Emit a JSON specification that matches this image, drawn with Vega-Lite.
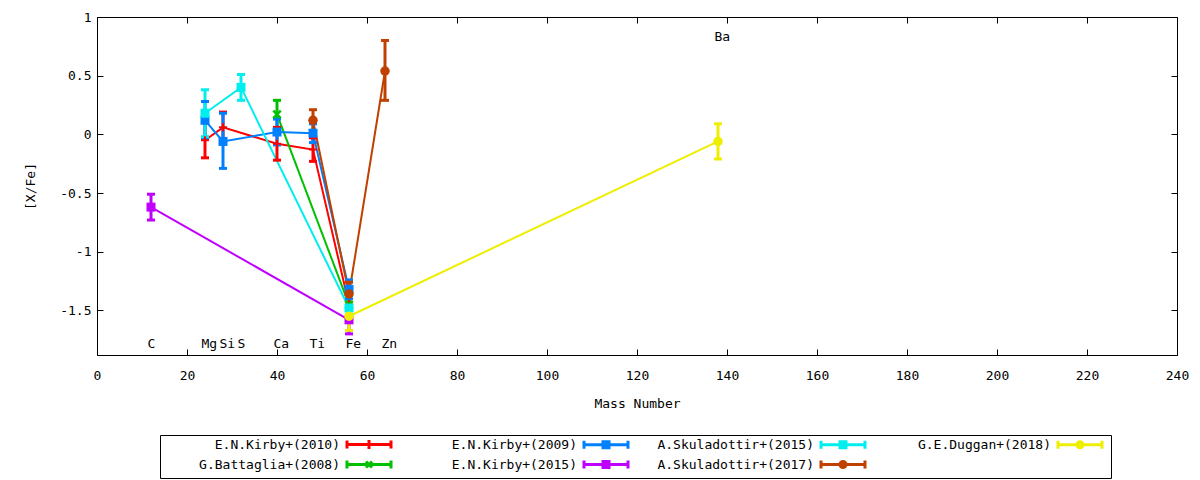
{
  "$schema": "https://vega.github.io/schema/vega-lite/v6.json",
  "width": 1080,
  "height": 338,
  "autosize": {"type": "none"},
  "padding": {"left": 97, "top": 17, "right": 23, "bottom": 125},
  "config": {
    "view": {"stroke": "black", "strokeWidth": 1},
    "font": "DejaVu Sans Mono",
    "axis": {
      "labelFont": "DejaVu Sans Mono", "labelFontSize": 13, "labelColor": "black",
      "titleFont": "DejaVu Sans Mono", "titleFontSize": 13, "titleFontWeight": "normal", "titleColor": "black",
      "tickColor": "black", "tickSize": -6, "tickWidth": 1, "grid": false, "domain": false
    }
  },
  "resolve": {"axis": {"x": "independent", "y": "independent"}},
  "datasets": {
    "abund": [
      {"series": "E.N.Kirby+(2010)", "el": "Mg", "mass": 24, "v": -0.05, "lo": -0.20, "hi": 0.10},
      {"series": "E.N.Kirby+(2010)", "el": "Si", "mass": 28, "v": 0.06, "lo": -0.08, "hi": 0.19},
      {"series": "E.N.Kirby+(2010)", "el": "Ca", "mass": 40, "v": -0.08, "lo": -0.22, "hi": 0.06},
      {"series": "E.N.Kirby+(2010)", "el": "Ti", "mass": 48, "v": -0.13, "lo": -0.23, "hi": -0.03},
      {"series": "E.N.Kirby+(2010)", "el": "Fe", "mass": 56, "v": -1.45, "lo": -1.55, "hi": -1.35},
      {"series": "G.Battaglia+(2008)", "el": "Ca", "mass": 40, "v": 0.17, "lo": 0.05, "hi": 0.29},
      {"series": "G.Battaglia+(2008)", "el": "Fe", "mass": 56, "v": -1.45, "lo": -1.55, "hi": -1.35},
      {"series": "E.N.Kirby+(2009)", "el": "Mg", "mass": 24, "v": 0.12, "lo": -0.04, "hi": 0.28},
      {"series": "E.N.Kirby+(2009)", "el": "Si", "mass": 28, "v": -0.06, "lo": -0.29, "hi": 0.18},
      {"series": "E.N.Kirby+(2009)", "el": "Ca", "mass": 40, "v": 0.02, "lo": -0.09, "hi": 0.13},
      {"series": "E.N.Kirby+(2009)", "el": "Ti", "mass": 48, "v": 0.01, "lo": -0.07, "hi": 0.09},
      {"series": "E.N.Kirby+(2009)", "el": "Fe", "mass": 56, "v": -1.32, "lo": -1.40, "hi": -1.24},
      {"series": "E.N.Kirby+(2015)", "el": "C", "mass": 12, "v": -0.62, "lo": -0.73, "hi": -0.51},
      {"series": "E.N.Kirby+(2015)", "el": "Fe", "mass": 56, "v": -1.58, "lo": -1.70, "hi": -1.46},
      {"series": "A.Skuladottir+(2015)", "el": "Mg", "mass": 24, "v": 0.18, "lo": -0.02, "hi": 0.38},
      {"series": "A.Skuladottir+(2015)", "el": "S", "mass": 32, "v": 0.40, "lo": 0.29, "hi": 0.51},
      {"series": "A.Skuladottir+(2015)", "el": "Fe", "mass": 56, "v": -1.48, "lo": -1.58, "hi": -1.38},
      {"series": "A.Skuladottir+(2017)", "el": "Ti", "mass": 48, "v": 0.12, "lo": 0.03, "hi": 0.21},
      {"series": "A.Skuladottir+(2017)", "el": "Fe", "mass": 56, "v": -1.36, "lo": -1.46, "hi": -1.26},
      {"series": "A.Skuladottir+(2017)", "el": "Zn", "mass": 64, "v": 0.54, "lo": 0.29, "hi": 0.80},
      {"series": "G.E.Duggan+(2018)", "el": "Fe", "mass": 56, "v": -1.55, "lo": -1.67, "hi": -1.44},
      {"series": "G.E.Duggan+(2018)", "el": "Ba", "mass": 138, "v": -0.06, "lo": -0.21, "hi": 0.09}
    ],
    "elems": [
      {"el": "C", "mass": 12, "y": -1.79},
      {"el": "Mg", "mass": 24, "y": -1.79},
      {"el": "Si", "mass": 28, "y": -1.79},
      {"el": "S", "mass": 32, "y": -1.79},
      {"el": "Ca", "mass": 40, "y": -1.79},
      {"el": "Ti", "mass": 48, "y": -1.79},
      {"el": "Fe", "mass": 56, "y": -1.79},
      {"el": "Zn", "mass": 64, "y": -1.79},
      {"el": "Ba", "mass": 138, "y": 0.83}
    ]
  },
  "layer": [
    {
      "data": {"name": "abund"},
      "mark": {"type": "line", "strokeWidth": 2},
      "encoding": {
        "x": {
          "field": "mass", "type": "quantitative",
          "scale": {"domain": [0, 240], "nice": false},
          "axis": {"orient": "bottom", "title": "Mass Number", "values": [0, 20, 40, 60, 80, 100, 120, 140, 160, 180, 200, 220, 240], "labelPadding": 20, "titlePadding": 15, "labelFlush": false}
        },
        "y": {
          "field": "v", "type": "quantitative",
          "scale": {"domain": [-1.88, 1], "nice": false},
          "axis": {"orient": "left", "title": "[X/Fe]", "values": [-1.5, -1, -0.5, 0, 0.5, 1], "labelExpr": "toString(datum.value)", "labelPadding": 12, "titlePadding": 22}
        },
        "color": {
          "field": "series", "type": "nominal",
          "scale": {
            "domain": ["E.N.Kirby+(2010)", "E.N.Kirby+(2009)", "A.Skuladottir+(2015)", "G.E.Duggan+(2018)", "G.Battaglia+(2008)", "E.N.Kirby+(2015)", "A.Skuladottir+(2017)"],
            "range": ["#ff0000", "#0080ff", "#00eeee", "#eeee00", "#00c000", "#c000ff", "#c04000"]
          },
          "legend": {
            "orient": "none", "legendX": 63, "legendY": 418, "title": null,
            "columns": 4, "direction": "horizontal", "gridAlign": "all",
            "columnPadding": 3, "rowPadding": -1,
            "symbolSize": 100, "symbolOffset": 199.5, "labelOffset": -35.5,
            "labelAlign": "right", "labelLimit": 400,
            "labelFont": "DejaVu Sans Mono", "labelFontSize": 13, "labelColor": "black",
            "symbolStrokeWidth": 3, "strokeColor": "black", "padding": 3,
            "encode": {
              "symbols": {
                "update": {
                  "shape": {"signal": "datum.value === 'E.N.Kirby+(2010)' ? 'M-4.4,0H4.4M-4.4,-0.8V0.8M4.4,-0.8V0.8M0,-0.9V0.9' : datum.value === 'G.Battaglia+(2008)' ? 'M-4.4,0H4.4M-4.4,-0.8V0.8M4.4,-0.8V0.8M-0.6,-0.6L0.6,0.6M-0.6,0.6L0.6,-0.6' : (datum.value === 'A.Skuladottir+(2017)' || datum.value === 'G.E.Duggan+(2018)') ? 'M-4.4,0H4.4M-4.4,-0.8V0.8M4.4,-0.8V0.8M0.6,0A0.6,0.6,0,1,1,-0.6,0A0.6,0.6,0,1,1,0.6,0Z' : 'M-4.4,0H4.4M-4.4,-0.8V0.8M4.4,-0.8V0.8M-0.6,-0.6H0.6V0.6H-0.6Z'"},
                  "fill": {"scale": "color", "field": "value"},
                  "stroke": {"scale": "color", "field": "value"},
                  "strokeWidth": {"value": 3},
                  "opacity": {"value": 1}
                }
              }
            }
          }
        }
      }
    },
    {
      "data": {"name": "abund"},
      "mark": {"type": "rule", "strokeWidth": 3},
      "encoding": {
        "x": {"field": "mass", "type": "quantitative", "scale": {"domain": [0, 240], "nice": false}, "axis": null},
        "y": {"field": "lo", "type": "quantitative", "scale": {"domain": [-1.88, 1], "nice": false}, "axis": null},
        "y2": {"field": "hi"},
        "color": {"field": "series", "type": "nominal"}
      }
    },
    {
      "data": {"name": "abund"},
      "mark": {"type": "tick", "orient": "horizontal", "size": 8, "thickness": 3, "opacity": 1},
      "encoding": {
        "x": {"field": "mass", "type": "quantitative", "scale": {"domain": [0, 240], "nice": false}, "axis": null},
        "y": {"field": "lo", "type": "quantitative", "scale": {"domain": [-1.88, 1], "nice": false}, "axis": null},
        "color": {"field": "series", "type": "nominal"}
      }
    },
    {
      "data": {"name": "abund"},
      "mark": {"type": "tick", "orient": "horizontal", "size": 8, "thickness": 3, "opacity": 1},
      "encoding": {
        "x": {"field": "mass", "type": "quantitative", "scale": {"domain": [0, 240], "nice": false}, "axis": null},
        "y": {"field": "hi", "type": "quantitative", "scale": {"domain": [-1.88, 1], "nice": false}, "axis": null},
        "color": {"field": "series", "type": "nominal"}
      }
    },
    {
      "data": {"name": "abund"},
      "transform": [{"filter": "datum.series === 'E.N.Kirby+(2010)'"}],
      "mark": {"type": "point", "filled": false, "strokeWidth": 2, "size": 64, "opacity": 1, "shape": "M-1,0H1M0,-1V1"},
      "encoding": {
        "x": {"field": "mass", "type": "quantitative", "scale": {"domain": [0, 240], "nice": false}, "axis": null},
        "y": {"field": "v", "type": "quantitative", "scale": {"domain": [-1.88, 1], "nice": false}, "axis": null},
        "color": {"field": "series", "type": "nominal"}
      }
    },
    {
      "data": {"name": "abund"},
      "transform": [{"filter": "datum.series === 'G.Battaglia+(2008)'"}],
      "mark": {"type": "point", "filled": false, "strokeWidth": 2.5, "size": 56, "opacity": 1, "shape": "M-1,-1L1,1M-1,1L1,-1"},
      "encoding": {
        "x": {"field": "mass", "type": "quantitative", "scale": {"domain": [0, 240], "nice": false}, "axis": null},
        "y": {"field": "v", "type": "quantitative", "scale": {"domain": [-1.88, 1], "nice": false}, "axis": null},
        "color": {"field": "series", "type": "nominal"}
      }
    },
    {
      "data": {"name": "abund"},
      "transform": [{"filter": "datum.series === 'E.N.Kirby+(2009)' || datum.series === 'E.N.Kirby+(2015)' || datum.series === 'A.Skuladottir+(2015)'"}],
      "mark": {"type": "point", "filled": true, "size": 81, "opacity": 1, "shape": "square"},
      "encoding": {
        "x": {"field": "mass", "type": "quantitative", "scale": {"domain": [0, 240], "nice": false}, "axis": null},
        "y": {"field": "v", "type": "quantitative", "scale": {"domain": [-1.88, 1], "nice": false}, "axis": null},
        "color": {"field": "series", "type": "nominal"}
      }
    },
    {
      "data": {"name": "abund"},
      "transform": [{"filter": "datum.series === 'A.Skuladottir+(2017)' || datum.series === 'G.E.Duggan+(2018)'"}],
      "mark": {"type": "point", "filled": true, "size": 90, "opacity": 1, "shape": "circle"},
      "encoding": {
        "x": {"field": "mass", "type": "quantitative", "scale": {"domain": [0, 240], "nice": false}, "axis": null},
        "y": {"field": "v", "type": "quantitative", "scale": {"domain": [-1.88, 1], "nice": false}, "axis": null},
        "color": {"field": "series", "type": "nominal"}
      }
    },
    {
      "data": {"name": "elems"},
      "mark": {"type": "text", "align": "left", "baseline": "middle", "dx": -3.5, "font": "DejaVu Sans Mono", "fontSize": 13, "color": "black"},
      "encoding": {
        "x": {
          "field": "mass", "type": "quantitative", "scale": {"domain": [0, 240], "nice": false},
          "axis": {"orient": "top", "title": null, "labels": false, "values": [0, 20, 40, 60, 80, 100, 120, 140, 160, 180, 200, 220, 240]}
        },
        "y": {
          "field": "y", "type": "quantitative", "scale": {"domain": [-1.88, 1], "nice": false},
          "axis": {"orient": "right", "title": null, "labels": false, "values": [-1.5, -1, -0.5, 0, 0.5, 1]}
        },
        "text": {"field": "el"}
      }
    }
  ]
}
